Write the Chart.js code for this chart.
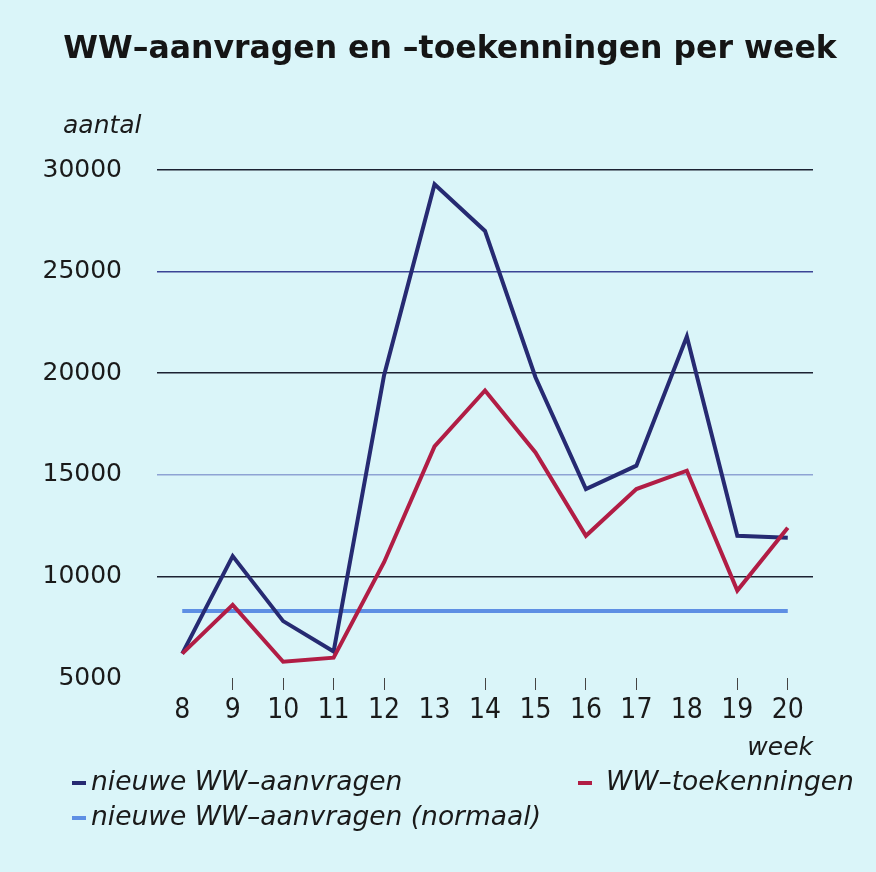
<!DOCTYPE html>
<html>
<head>
<meta charset="utf-8">
<script src="https://cdn.jsdelivr.net/npm/chart.js@4/dist/chart.umd.min.js"></script>
<style>
  html, body { margin: 0; padding: 0; background: #daf5f9; }
  canvas { display: block; }
</style>
</head>
<body>
<canvas id="myChart" width="876" height="872"></canvas>
<script>
// weeks on the x axis
const weeks = ['8', '9', '10', '11', '12', '13', '14', '15', '16', '17', '18', '19', '20']
const aanvragen = [6200, 11000, 7800, 6300, 19900, 29300, 27000, 19800, 14300, 15450, 21800, 12000, 11900]
const toekenningen = [6200, 8600, 5800, 6000, 10700, 16400, 19150, 16100, 12000, 14300, 15200, 9300, 12400]
const normaal = [8300, 8300, 8300, 8300, 8300, 8300, 8300, 8300, 8300, 8300, 8300, 8300, 8300]
const yTicks = [5000, 10000, 15000, 20000, 25000, 30000]
// weeks without a small tick mark under the axis
const noTick = ['8', '13', '18']

const title = 'WW–aanvragen en –toekenningen per week'
const gridColors = { 30000: '#1c2233', 25000: '#3b4596', 20000: '#1c2233', 15000: '#8ea3d4', 10000: '#1c2233' }

// legend spots: [markerX, y, textX]
const legendSpots = [[72, 783, 91], [72, 818, 91], [578, 783, 606]]

const extraText = {
  id: 'extraText',
  afterDraw(chart) {
    const ctx = chart.ctx
    ctx.save()
    ctx.fillStyle = '#151515'
    ctx.textBaseline = 'middle'
    ctx.textAlign = 'center'
    ctx.font = 'bold 31.5px "DejaVu Sans"'
    ctx.fillText(title, 450, 50)

    ctx.fillStyle = '#1a1a1a'
    ctx.font = 'italic 25px "DejaVu Sans"'
    ctx.textAlign = 'left'
    ctx.fillText('aantal', 63, 126)
    ctx.textAlign = 'right'
    ctx.fillText('week', chart.chartArea.right, 748)

    ctx.textAlign = 'left'
    ctx.font = 'italic 26.5px "DejaVu Sans"'
    chart.data.datasets.forEach((ds, i) => {
      const [mx, y, tx] = legendSpots[i]
      ctx.fillStyle = ds.borderColor
      ctx.fillRect(mx, y - 2, 14, 4)
      ctx.fillStyle = '#1a1a1a'
      ctx.fillText(ds.label, tx, y)
    })
    ctx.restore()
  }
}

var ctx = document.getElementById('myChart').getContext('2d')
const myChart = new Chart(ctx, {
  type: 'line',
  data: {
    labels: weeks,
    datasets: [{
      label: 'nieuwe WW–aanvragen',
      data: aanvragen,
      borderColor: '#262a72',
      borderWidth: 4,
      pointRadius: 0,
      order: 1
    }, {
      label: 'nieuwe WW–aanvragen (normaal)',
      data: normaal,
      borderColor: '#5e8fe4',
      borderWidth: 4,
      pointRadius: 0,
      order: 2
    }, {
      label: 'WW–toekenningen',
      data: toekenningen,
      borderColor: '#b11d45',
      borderWidth: 4,
      pointRadius: 0,
      order: 0
    }]
  },
  options: {
    responsive: false,
    animation: false,
    devicePixelRatio: 1,
    layout: { padding: { left: 24, right: 63, top: 170, bottom: 142 } },
    plugins: {
      legend: { display: false },
      tooltip: { enabled: false },
      title: { display: false }
    },
    scales: {
      x: {
        offset: true,
        border: { display: false },
        grid: {
          drawOnChartArea: false,
          drawTicks: true,
          tickLength: 12,
          tickColor: c => noTick.includes(weeks[c.index]) ? 'rgba(0,0,0,0)' : '#444',
          lineWidth: 1
        },
        ticks: {
          padding: 4,
          color: '#1a1a1a',
          font: { family: '"Liberation Sans Narrow", "DejaVu Sans Condensed", sans-serif', size: 28 }
        },
        afterFit: s => { s.height = 52 }
      },
      y: {
        min: yTicks[0],
        max: yTicks[yTicks.length - 1],
        border: { display: false },
        grid: {
          drawTicks: false,
          lineWidth: 1.5,
          color: c => gridColors[c.tick.value] || 'rgba(0,0,0,0)'
        },
        afterBuildTicks: s => { s.ticks = yTicks.map(v => ({ value: v })) },
        ticks: {
          padding: 35,
          color: '#1a1a1a',
          font: { family: '"DejaVu Sans"', size: 25 },
          callback: v => String(v)
        },
        afterFit: s => { s.width = 133 }
      }
    }
  },
  plugins: [extraText]
})
</script>
</body>
</html>
